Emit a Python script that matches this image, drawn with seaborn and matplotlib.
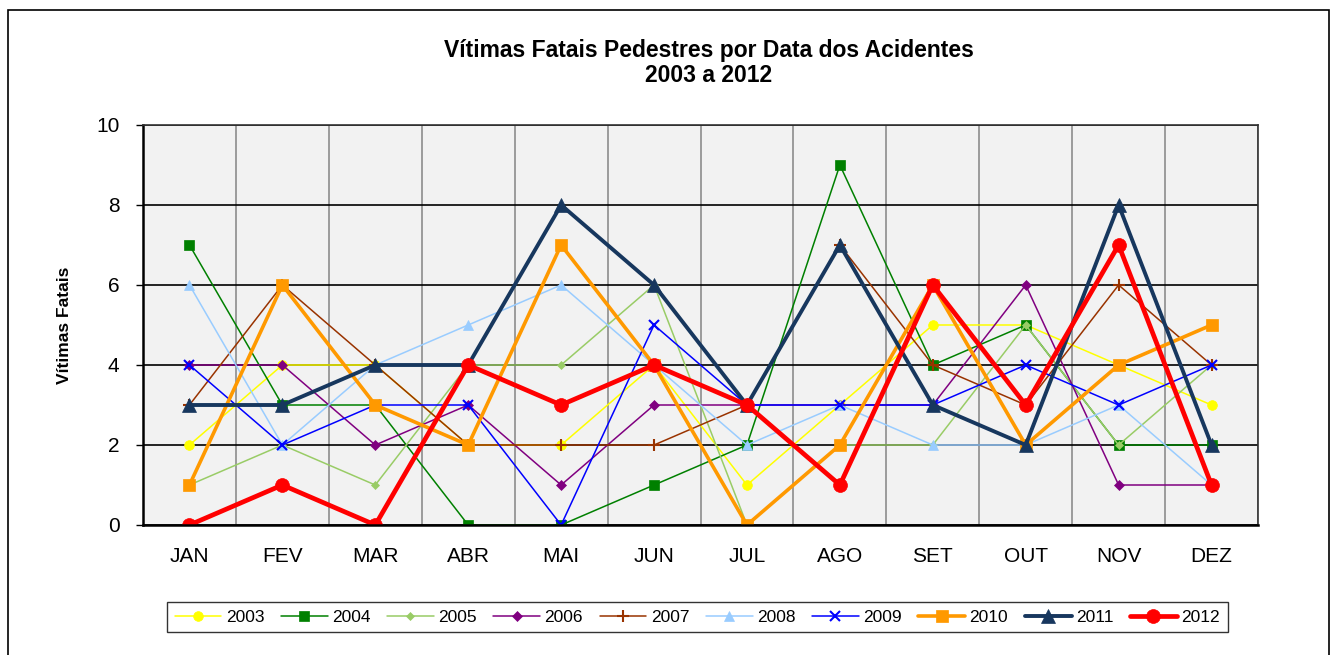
import pandas as pd
import matplotlib.pyplot as plt
import seaborn as sns
from matplotlib.patches import Rectangle
from matplotlib.ticker import MultipleLocator

# months and yearly values
meses = ['JAN', 'FEV', 'MAR', 'ABR', 'MAI', 'JUN', 'JUL', 'AGO', 'SET', 'OUT', 'NOV', 'DEZ']
v2003 = [2, 4, 4, 2, 2, 4, 1, 3, 5, 5, 4, 3]
v2004 = [7, 3, 3, 0, 0, 1, 2, 9, 4, 5, 2, 2]
v2005 = [1, 2, 1, 4, 4, 6, 0, 2, 2, 5, 2, 4]
v2006 = [4, 4, 2, 3, 1, 3, 3, 3, 3, 6, 1, 1]
v2007 = [3, 6, 4, 2, 2, 2, 3, 7, 4, 3, 6, 4]
v2008 = [6, 2, 4, 5, 6, 4, 2, 3, 2, 2, 3, 1]
v2009 = [4, 2, 3, 3, 0, 5, 3, 3, 3, 4, 3, 4]
v2010 = [1, 6, 3, 2, 7, 4, 0, 2, 6, 2, 4, 5]
v2011 = [3, 3, 4, 4, 8, 6, 3, 7, 3, 2, 8, 2]
v2012 = [0, 1, 0, 4, 3, 4, 3, 1, 6, 3, 7, 1]

anos = ['2003', '2004', '2005', '2006', '2007', '2008', '2009', '2010', '2011', '2012']
valores = [v2003, v2004, v2005, v2006, v2007, v2008, v2009, v2010, v2011, v2012]

# style per year: color, marker, markersize, linewidth
estilos = {
    '2003': ('#FFFF00', 'o', 7, 1.1),
    '2004': ('#008000', 's', 6.5, 1.1),
    '2005': ('#99CC66', 'D', 4.5, 1.1),
    '2006': ('#800080', 'D', 5, 1.1),
    '2007': ('#993300', '+', 8, 1.1),
    '2008': ('#99CCFF', '^', 7, 1.1),
    '2009': ('#0000FF', 'x', 7, 1.1),
    '2010': ('#FF9900', 's', 8, 2.6),
    '2011': ('#17375E', '^', 9.5, 2.8),
    '2012': ('#FF0000', 'o', 10, 3.4),
}

df = pd.DataFrame({
    'mes': meses * len(anos),
    'pos': list(range(12)) * len(anos),
    'ano': [a for a in anos for _ in meses],
    'vitimas': [v for vals in valores for v in vals],
})

sns.set_style('white')
plt.rcParams['font.family'] = ['Liberation Sans', 'DejaVu Sans']
for chave in ['text.color', 'axes.labelcolor', 'xtick.color', 'ytick.color']:
    plt.rcParams[chave] = 'black'

fig = plt.figure(figsize=(13.32, 6.55), dpi=100)
ax = fig.add_axes([143 / 1332, 1 - 525 / 655, 1115 / 1332, 400 / 655])
ax.set_facecolor('#F2F2F2')

for ano in anos:
    cor, mk, ms, lw = estilos[ano]
    sub = df[df['ano'] == ano]
    sns.lineplot(data=sub, x='pos', y='vitimas', ax=ax, color=cor, marker=mk,
                 markersize=ms, linewidth=lw, markeredgecolor=cor,
                 markeredgewidth=1.5 if mk in ('+', 'x') else 0.5,
                 label=ano, sort=False, errorbar=None)

ax.set_xlim(-0.5, 11.5)
ax.set_ylim(0, 10)
ax.set_xticks(range(12))
ax.set_xticklabels(meses, fontsize=15)
ax.xaxis.set_minor_locator(MultipleLocator(1, offset=0.5))
ax.yaxis.set_major_locator(MultipleLocator(2))
ax.tick_params(axis='x', which='major', length=0, pad=16)
ax.tick_params(axis='x', which='minor', length=5, width=1, color='black', direction='out')
ax.tick_params(axis='y', labelsize=15, length=5, width=1, color='black', direction='out',
               left=True, pad=12)
ax.set_xlabel('')
ax.set_ylabel('Vítimas Fatais', fontsize=12.5, fontweight='bold')
ax.yaxis.set_label_coords(-0.064, 0.5)

ax.grid(axis='y', which='major', color='black', linewidth=1.2)
ax.grid(axis='x', which='minor', color='#8C8C8C', linewidth=1.2)
ax.set_axisbelow(True)
for lado in ['top', 'right']:
    ax.spines[lado].set_color('#333333')
    ax.spines[lado].set_linewidth(1.2)
for lado in ['left', 'bottom']:
    ax.spines[lado].set_color('black')
    ax.spines[lado].set_linewidth(1.8)

leg = ax.legend(ncol=10, loc='upper center', bbox_to_anchor=(0.497, -0.17),
                fontsize=12.5, frameon=True, fancybox=False, handlelength=2.7,
                columnspacing=0.95, handletextpad=0.25, borderpad=0.45)
leg.get_frame().set_edgecolor('black')
leg.get_frame().set_linewidth(1.0)

fig.text(709 / 1332, 1 - 63 / 655, 'Vítimas Fatais Pedestres por Data dos Acidentes\n2003 a 2012',
         ha='center', va='center', fontsize=16.5, fontweight='bold', linespacing=1.1)

# outer chart border
fig.patches.append(Rectangle((8 / 1332, -0.01), 1321 / 1332, 1 - 10 / 655 + 0.01,
                             transform=fig.transFigure, fill=False,
                             edgecolor='black', linewidth=1.2))

fig.savefig('out.png', dpi=100)
